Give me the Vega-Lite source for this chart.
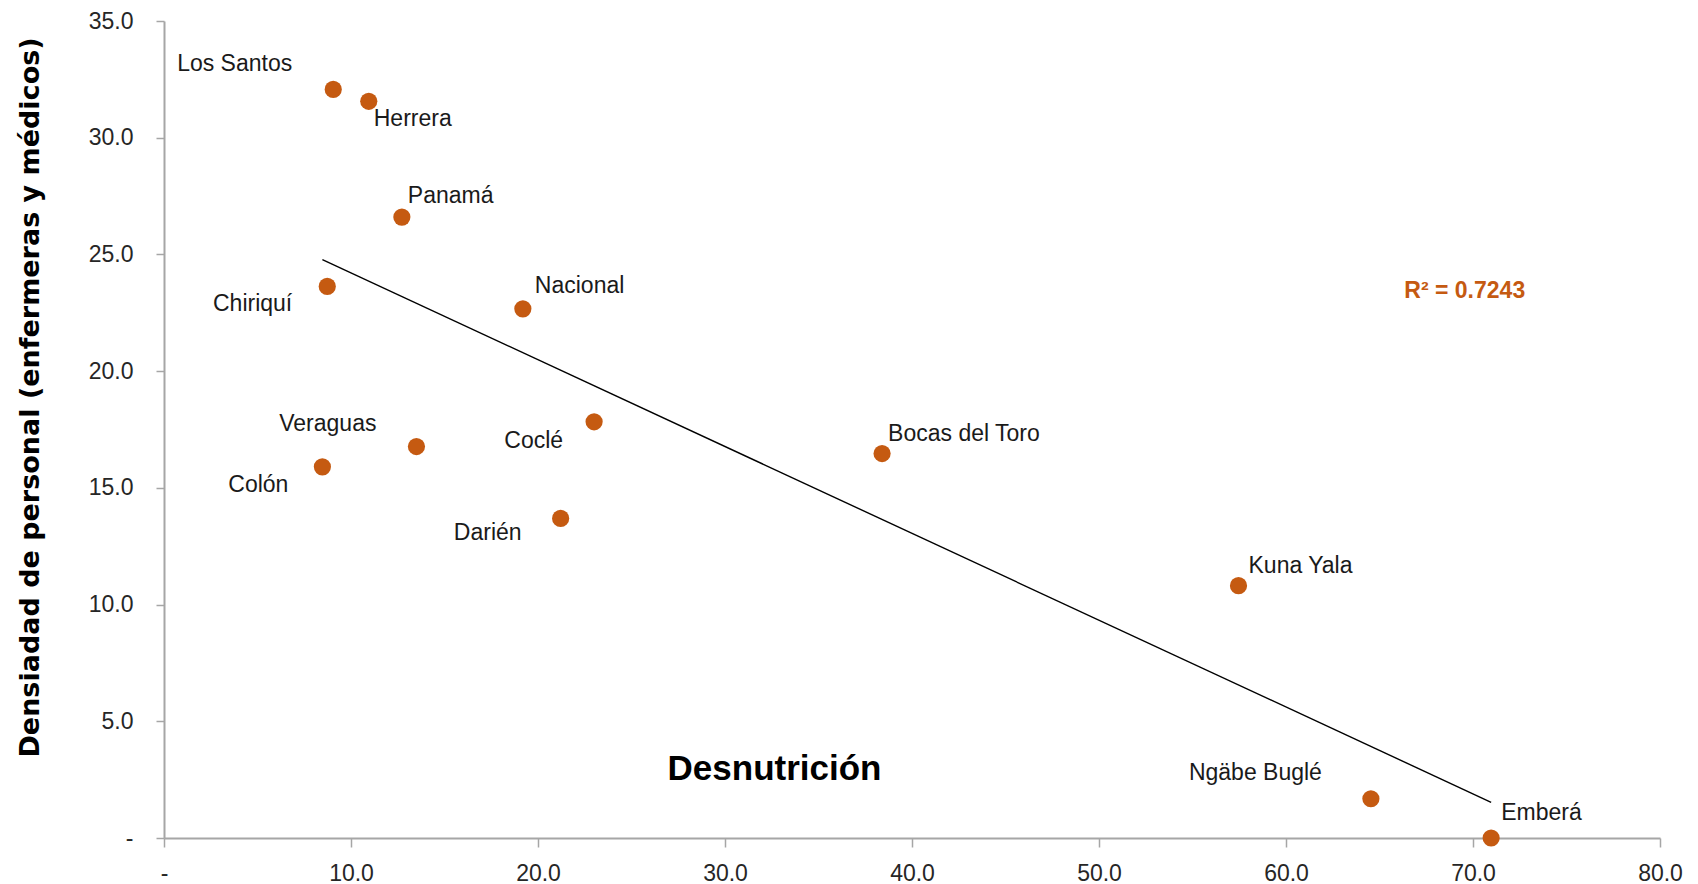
{
  "$schema": "https://vega.github.io/schema/vega-lite/v6.json",
  "width": 1496,
  "height": 817,
  "autosize": "none",
  "padding": {"left": 164, "top": 21, "right": 38, "bottom": 46},
  "background": "white",
  "config": {"view": {"stroke": null}},
  "datasets": {
    "pts": [
      {"name": "Los Santos", "x": 9.05, "y": 32.07},
      {"name": "Herrera", "x": 10.95, "y": 31.56},
      {"name": "Panamá", "x": 12.72, "y": 26.6},
      {"name": "Chiriquí", "x": 8.73, "y": 23.63},
      {"name": "Nacional", "x": 19.19, "y": 22.67},
      {"name": "Coclé", "x": 23.0, "y": 17.83},
      {"name": "Veraguas", "x": 13.5, "y": 16.77},
      {"name": "Colón", "x": 8.47, "y": 15.9},
      {"name": "Darién", "x": 21.21, "y": 13.69},
      {"name": "Bocas del Toro", "x": 38.4, "y": 16.47},
      {"name": "Kuna Yala", "x": 57.46, "y": 10.81},
      {"name": "Ngäbe Buglé", "x": 64.54, "y": 1.68},
      {"name": "Emberá", "x": 70.97, "y": 0}
    ],
    "trend": [
      {"x": 8.47, "y": 24.78},
      {"x": 70.97, "y": 1.53}
    ],
    "ann": [
      {"label": "R² = 0.7243", "x": 69.56, "y": 23.43}
    ]
  },
  "encoding": {
    "x": {
      "field": "x", "type": "quantitative",
      "scale": {"domain": [0, 80], "nice": false, "zero": false},
      "axis": {
        "values": [0, 10, 20, 30, 40, 50, 60, 70, 80],
        "labelExpr": "datum.value == 0 ? '-\u00a0\u00a0' : format(datum.value, '.1f')",
        "grid": false,
        "domainColor": "#a6a6a6", "domainWidth": 2,
        "tickColor": "#a6a6a6", "tickWidth": 1.5, "tickSize": 9,
        "labelFont": "Liberation Sans", "labelFontSize": 23, "labelColor": "#262626", "labelPadding": 15,
        "labelFlush": false, "labelOverlap": false,
        "title": "Desnutrición",
        "titleFont": "Liberation Sans", "titleFontSize": 35, "titleFontWeight": "bold", "titleColor": "#000000",
        "titleX": 610, "titleY": -70, "titleBaseline": "middle", "titleAlign": "center"
      }
    },
    "y": {
      "field": "y", "type": "quantitative",
      "scale": {"domain": [0, 35], "nice": false, "zero": false},
      "axis": {
        "values": [0, 5, 10, 15, 20, 25, 30, 35],
        "labelExpr": "datum.value == 0 ? '-\u00a0\u00a0' : format(datum.value, '.1f')",
        "grid": false,
        "domainColor": "#a6a6a6", "domainWidth": 2,
        "tickColor": "#a6a6a6", "tickWidth": 1.5, "tickSize": 8,
        "labelFont": "Liberation Sans", "labelFontSize": 23, "labelColor": "#262626", "labelPadding": 23,
        "labelFlush": false, "labelOverlap": false,
        "title": "Densiadad de personal (enfermeras y médicos)",
        "titleFont": "DejaVu Sans", "titleFontSize": 27, "titleFontWeight": "bold", "titleColor": "#000000",
        "titleX": -134, "titleY": 376, "titleBaseline": "middle", "titleAlign": "center", "titleAngle": -90
      }
    }
  },
  "layer": [
    {"data": {"name": "trend"}, "mark": {"type": "line", "color": "#000000", "strokeWidth": 1.4}},
    {"data": {"name": "pts"}, "mark": {"type": "circle", "size": 295, "opacity": 1, "color": "#C55A11"}},
    {"data": {"name": "pts"}, "transform": [{"filter": {"field": "name", "equal": "Los Santos"}}],
     "mark": {"type": "text", "align": "right", "baseline": "middle", "dx": -41, "dy": -25, "font": "Liberation Sans", "fontSize": 23, "color": "#1a1a1a"},
     "encoding": {"text": {"field": "name"}}},
    {"data": {"name": "pts"}, "transform": [{"filter": {"field": "name", "equal": "Herrera"}}],
     "mark": {"type": "text", "align": "left", "baseline": "middle", "dx": 5, "dy": 18, "font": "Liberation Sans", "fontSize": 23, "color": "#1a1a1a"},
     "encoding": {"text": {"field": "name"}}},
    {"data": {"name": "pts"}, "transform": [{"filter": {"field": "name", "equal": "Panamá"}}],
     "mark": {"type": "text", "align": "left", "baseline": "middle", "dx": 6, "dy": -21, "font": "Liberation Sans", "fontSize": 23, "color": "#1a1a1a"},
     "encoding": {"text": {"field": "name"}}},
    {"data": {"name": "pts"}, "transform": [{"filter": {"field": "name", "equal": "Chiriquí"}}],
     "mark": {"type": "text", "align": "right", "baseline": "middle", "dx": -35, "dy": 18, "font": "Liberation Sans", "fontSize": 23, "color": "#1a1a1a"},
     "encoding": {"text": {"field": "name"}}},
    {"data": {"name": "pts"}, "transform": [{"filter": {"field": "name", "equal": "Nacional"}}],
     "mark": {"type": "text", "align": "left", "baseline": "middle", "dx": 12, "dy": -23, "font": "Liberation Sans", "fontSize": 23, "color": "#1a1a1a"},
     "encoding": {"text": {"field": "name"}}},
    {"data": {"name": "pts"}, "transform": [{"filter": {"field": "name", "equal": "Coclé"}}],
     "mark": {"type": "text", "align": "right", "baseline": "middle", "dx": -31, "dy": 19, "font": "Liberation Sans", "fontSize": 23, "color": "#1a1a1a"},
     "encoding": {"text": {"field": "name"}}},
    {"data": {"name": "pts"}, "transform": [{"filter": {"field": "name", "equal": "Veraguas"}}],
     "mark": {"type": "text", "align": "right", "baseline": "middle", "dx": -40, "dy": -23, "font": "Liberation Sans", "fontSize": 23, "color": "#1a1a1a"},
     "encoding": {"text": {"field": "name"}}},
    {"data": {"name": "pts"}, "transform": [{"filter": {"field": "name", "equal": "Colón"}}],
     "mark": {"type": "text", "align": "right", "baseline": "middle", "dx": -34, "dy": 18, "font": "Liberation Sans", "fontSize": 23, "color": "#1a1a1a"},
     "encoding": {"text": {"field": "name"}}},
    {"data": {"name": "pts"}, "transform": [{"filter": {"field": "name", "equal": "Darién"}}],
     "mark": {"type": "text", "align": "right", "baseline": "middle", "dx": -39, "dy": 15, "font": "Liberation Sans", "fontSize": 23, "color": "#1a1a1a"},
     "encoding": {"text": {"field": "name"}}},
    {"data": {"name": "pts"}, "transform": [{"filter": {"field": "name", "equal": "Bocas del Toro"}}],
     "mark": {"type": "text", "align": "left", "baseline": "middle", "dx": 6, "dy": -20, "font": "Liberation Sans", "fontSize": 23, "color": "#1a1a1a"},
     "encoding": {"text": {"field": "name"}}},
    {"data": {"name": "pts"}, "transform": [{"filter": {"field": "name", "equal": "Kuna Yala"}}],
     "mark": {"type": "text", "align": "left", "baseline": "middle", "dx": 10, "dy": -20, "font": "Liberation Sans", "fontSize": 23, "color": "#1a1a1a"},
     "encoding": {"text": {"field": "name"}}},
    {"data": {"name": "pts"}, "transform": [{"filter": {"field": "name", "equal": "Ngäbe Buglé"}}],
     "mark": {"type": "text", "align": "right", "baseline": "middle", "dx": -49, "dy": -26, "font": "Liberation Sans", "fontSize": 23, "color": "#1a1a1a"},
     "encoding": {"text": {"field": "name"}}},
    {"data": {"name": "pts"}, "transform": [{"filter": {"field": "name", "equal": "Emberá"}}],
     "mark": {"type": "text", "align": "left", "baseline": "middle", "dx": 10, "dy": -25, "font": "Liberation Sans", "fontSize": 23, "color": "#1a1a1a"},
     "encoding": {"text": {"field": "name"}}},
    {"data": {"name": "ann"},
     "mark": {"type": "text", "align": "center", "baseline": "middle", "font": "Liberation Sans", "fontSize": 23, "fontWeight": "bold", "color": "#C55A11"},
     "encoding": {"text": {"field": "label"}}}
  ]
}
